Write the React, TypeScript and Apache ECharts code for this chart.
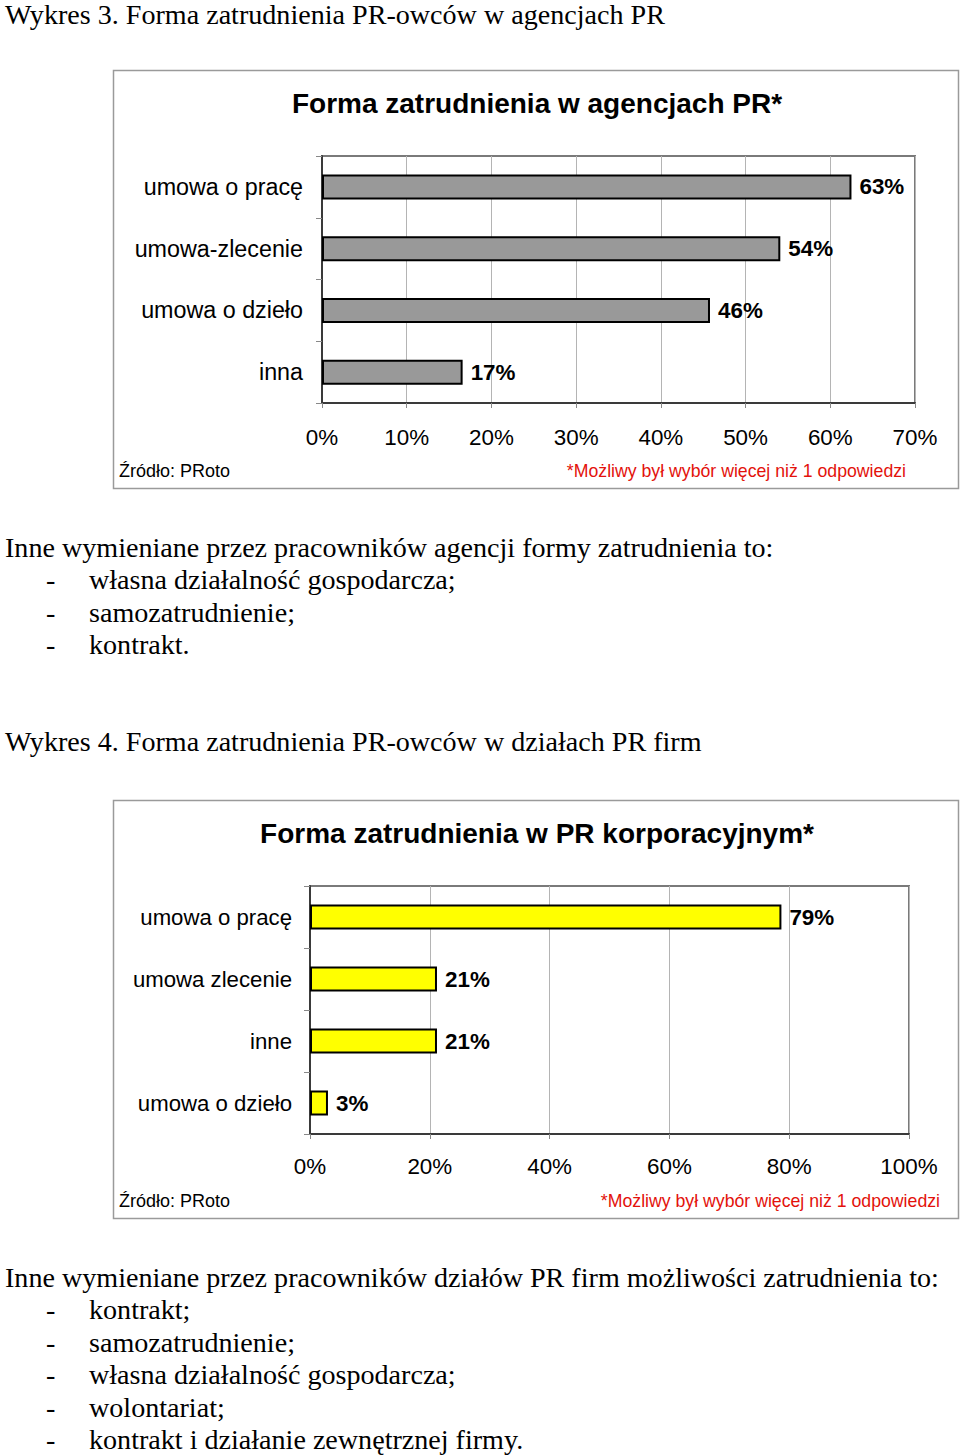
import React, { useEffect, useRef } from "react";
import * as echarts from "echarts";

const agencyCategories = ["umowa o pracę", "umowa-zlecenie", "umowa o dzieło", "inna"];
const agencyValues = [62.5, 54.1, 45.8, 16.6];
const agencyTicks = { min: 0, max: 70, interval: 10 };

const corporateCategories = ["umowa o pracę", "umowa zlecenie", "inne", "umowa o dzieło"];
const corporateValues = [78.7, 21.2, 21.2, 3.0];
const corporateTicks = { min: 0, max: 100, interval: 20 };

const heading3 = "Wykres 3. Forma zatrudnienia PR-owców w agencjach PR";
const title3 = "Forma zatrudnienia w agencjach PR*";
const intro3 = "Inne wymieniane przez pracowników agencji formy zatrudnienia to:";
const agencyOtherForms = ["własna działalność gospodarcza;", "samozatrudnienie;", "kontrakt."];

const heading4 = "Wykres 4. Forma zatrudnienia PR-owców w działach PR firm";
const title4 = "Forma zatrudnienia w PR korporacyjnym*";
const intro4 = "Inne wymieniane przez pracowników działów PR firm możliwości zatrudnienia to:";
const corporateOtherForms = [
  "kontrakt;",
  "samozatrudnienie;",
  "własna działalność gospodarcza;",
  "wolontariat;",
  "kontrakt i działanie zewnętrznej firmy.",
];

const sourceText = "Źródło: PRoto";
const noteText = "*Możliwy był wybór więcej niż 1 odpowiedzi";

const SANS = "Liberation Sans, Arial, sans-serif";
const SERIF = "Liberation Serif, Times New Roman, serif";

function serifText(text: string, x: number, y: number) {
  return {
    type: "text",
    x,
    y,
    silent: true,
    style: { text, fontSize: 28.1, fontFamily: SERIF, fill: "#000", verticalAlign: "middle", align: "left" },
  };
}

function sansText(text: string, x: number, y: number, size: number, opts: any = {}) {
  return {
    type: "text",
    x,
    y,
    silent: true,
    style: {
      text,
      fontSize: size,
      fontFamily: SANS,
      fill: opts.fill || "#000",
      fontWeight: opts.weight || "normal",
      verticalAlign: "middle",
      align: opts.align || "left",
    },
  };
}

export default function App() {
  const ref = useRef<HTMLDivElement>(null);
  useEffect(() => {
    if (!ref.current) return;
    const chart = echarts.init(ref.current, undefined, { renderer: "svg" });

    const graphics: any[] = [];
    // document text
    graphics.push(serifText(heading3, 5, 14));
    graphics.push(serifText(intro3, 5, 547.5));
    agencyOtherForms.forEach((t, i) => {
      const y = 579.5 + i * 32.5;
      graphics.push(serifText("-", 46, y));
      graphics.push(serifText(t, 89, y));
    });
    graphics.push(serifText(heading4, 5, 741.5));
    graphics.push(serifText(intro4, 5, 1277.5));
    corporateOtherForms.forEach((t, i) => {
      const y = 1309.5 + i * 32.5;
      graphics.push(serifText("-", 46, y));
      graphics.push(serifText(t, 89, y));
    });
    // frames
    graphics.push({
      type: "rect",
      silent: true,
      shape: { x: 113.5, y: 70.5, width: 845, height: 418 },
      style: { fill: "none", stroke: "#9a9a9a", lineWidth: 1.5 },
    });
    graphics.push({
      type: "rect",
      silent: true,
      shape: { x: 113.5, y: 800.5, width: 845, height: 418 },
      style: { fill: "none", stroke: "#9a9a9a", lineWidth: 1.5 },
    });
    // chart titles
    graphics.push(sansText(title3, 537, 103, 28, { weight: "bold", align: "center" }));
    graphics.push(sansText(title4, 537, 833, 28, { weight: "bold", align: "center" }));
    // sources and notes
    graphics.push(sansText(sourceText, 119, 470.5, 18));
    graphics.push(sansText(noteText, 906, 470.5, 17.7, { fill: "#e3120b", align: "right" }));
    graphics.push(sansText(sourceText, 119, 1200.5, 18));
    graphics.push(sansText(noteText, 940, 1200.5, 17.7, { fill: "#e3120b", align: "right" }));

    const grids = [
      { left: 322, top: 156, width: 593, height: 247 },
      { left: 310, top: 886, width: 599, height: 248 },
    ];

    const makeX = (idx: number, ticks: any, margin: number) => ({
      type: "value",
      gridIndex: idx,
      min: ticks.min,
      max: ticks.max,
      interval: ticks.interval,
      axisLine: { show: true, lineStyle: { color: "#3a3a3a", width: 2 } },
      axisTick: { show: true, length: 5, lineStyle: { color: "#888" } },
      splitLine: { show: true, lineStyle: { color: "#b4b4b4", width: 1 } },
      axisLabel: {
        formatter: (v: number) => `${v}%`,
        fontSize: 22.4,
        fontFamily: SANS,
        color: "#000",
        margin,
      },
    });

    const makeY = (idx: number, cats: string[], margin: number, size: number) => ({
      type: "category",
      gridIndex: idx,
      data: cats,
      inverse: true,
      axisLine: { show: true, lineStyle: { color: "#3a3a3a", width: 2 } },
      axisTick: { show: true, length: 6, lineStyle: { color: "#888" } },
      splitLine: { show: false },
      axisLabel: { fontSize: size, fontFamily: SANS, color: "#000", margin },
    });

    const labelOpt = {
      show: true,
      position: "right",
      distance: 8,
      formatter: (p: any) => `${Math.round(p.value)}%`,
      fontSize: 22.4,
      fontWeight: "bold",
      fontFamily: SANS,
      color: "#000",
    };

    chart.setOption({
      animation: false,
      backgroundColor: "#fff",
      grid: grids.map((g) => ({ ...g, show: true, borderColor: "#7a7a7a", borderWidth: 2, backgroundColor: "transparent" })),
      xAxis: [makeX(0, agencyTicks, 23), makeX(1, corporateTicks, 21)],
      yAxis: [makeY(0, agencyCategories, 19, 23.3), makeY(1, corporateCategories, 18, 22.2)],
      series: [
        {
          type: "bar",
          xAxisIndex: 0,
          yAxisIndex: 0,
          data: agencyValues,
          barWidth: 25,
          itemStyle: { color: "#999999", borderColor: "#000", borderWidth: 2 },
          label: labelOpt,
        },
        {
          type: "bar",
          xAxisIndex: 1,
          yAxisIndex: 1,
          data: corporateValues,
          barWidth: 25,
          itemStyle: { color: "#ffff00", borderColor: "#000", borderWidth: 2 },
          label: labelOpt,
        },
      ],
      graphic: graphics,
    });

    return () => chart.dispose();
  }, []);

  return (
    <div
      ref={ref}
      style={{ position: "absolute", left: 0, top: 0, width: 960, height: 1456, background: "#fff" }}
    />
  );
}
